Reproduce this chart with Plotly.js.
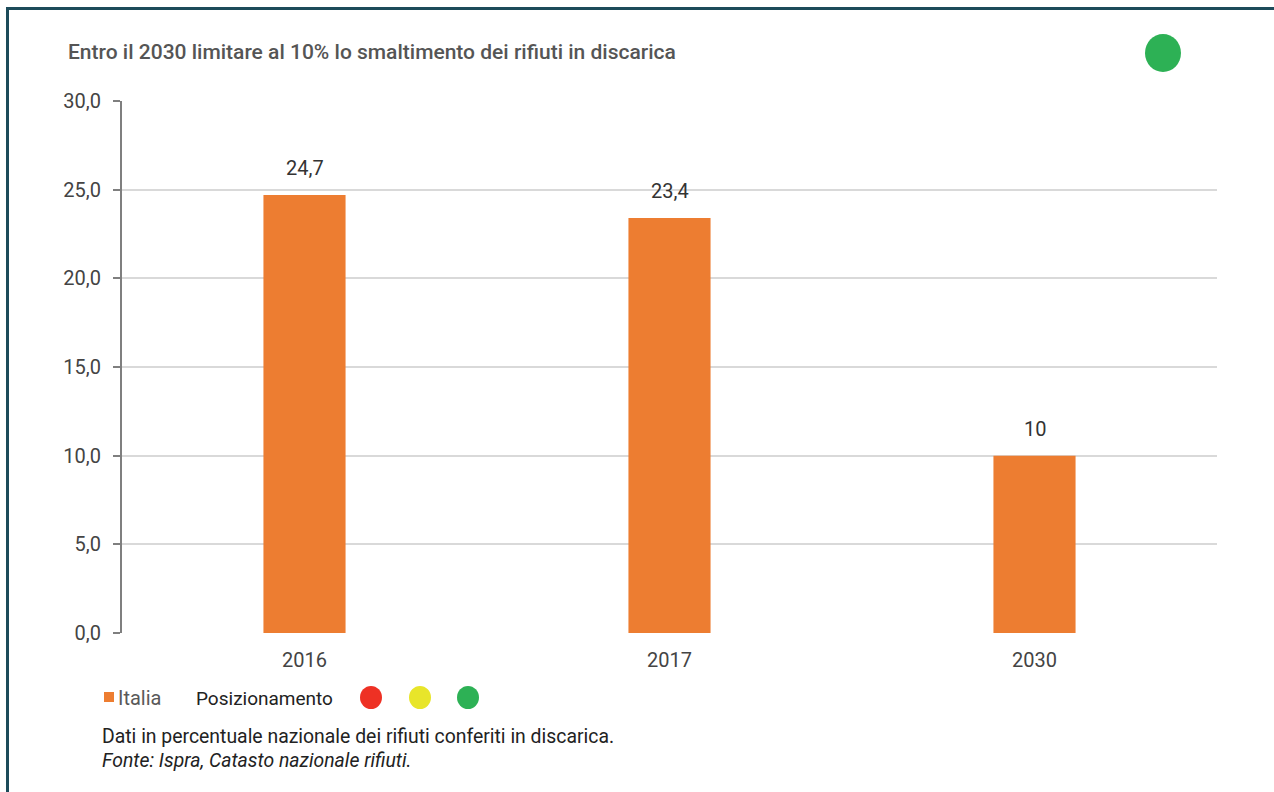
<!DOCTYPE html>
<html>
<head>
<meta charset="utf-8">
<script src="https://cdn.plot.ly/plotly-3.0.1.min.js"></script>
<style>
  html, body { margin: 0; padding: 0; background: #ffffff; }
  #wrap { position: relative; width: 1274px; height: 792px; overflow: hidden; }
  #chart { position: absolute; left: 0; top: 0; width: 1274px; height: 792px; }
  #frame { position: absolute; left: 6px; top: 7px; width: 1300px; height: 800px;
           border-left: 3px solid #1d4b5a; border-top: 3px solid #1d4b5a; pointer-events: none; }
</style>
</head>
<body>
<div id="wrap">
  <div id="chart"></div>
  <div id="frame"></div>
</div>
<script>
// ---- data ----
const categories = ["2016", "2017", "2030"];
const values = [24.7, 23.4, 10];
const valueLabels = ["24,7", "23,4", "10"];
const seriesName = "Italia";
const titleText = "Entro il 2030 limitare al 10% lo smaltimento dei rifiuti in discarica";
const legendExtraLabel = "Posizionamento";
const positionColors = ["#ee3124", "#e8e52a", "#2db155"];
const statusColor = "#2db155";
const noteLine1 = "Dati in percentuale nazionale dei rifiuti conferiti in discarica.";
const noteLine2 = "<i>Fonte: Ispra, Catasto nazionale rifiuti.</i>";
const yTicks = [0, 5, 10, 15, 20, 25, 30];

// ---- layout geometry ----
const W = 1274, H = 792;
const L = 122, R = 1217, T = 101, B = 633;
const px = x => (x - L) / (R - L);
const py = y => (B - y) / (B - T);

const barColor = "#ed7d31";
const FONT = "Roboto, 'Noto Sans', sans-serif";

const trace = {
  type: "bar",
  x: categories,
  y: values,
  name: seriesName,
  marker: { color: barColor },
  width: 0.225,
  hoverinfo: "x+y"
};

// value labels: placed at category index on the category axis
const annotations = categories.map((c, i) => ({
  x: i, y: values[i], xref: "x", yref: "y",
  text: valueLabels[i], showarrow: false,
  xanchor: "center", yanchor: "middle", yshift: 27,
  font: { family: FONT, size: 20, color: "#333333" }
}));

annotations.push(
  { xref: "paper", yref: "paper", x: px(66), y: py(52), xanchor: "left", yanchor: "middle",
    text: titleText, showarrow: false, font: { family: FONT, size: 21, color: "#555555", weight: 500 } },
  { xref: "paper", yref: "paper", x: px(116), y: py(698), xanchor: "left", yanchor: "middle",
    text: seriesName, showarrow: false, font: { family: FONT, size: 20, color: "#595959" } },
  { xref: "paper", yref: "paper", x: px(194), y: py(698), xanchor: "left", yanchor: "middle",
    text: legendExtraLabel, showarrow: false, font: { family: FONT, size: 19, color: "#222222" } },
  { xref: "paper", yref: "paper", x: px(100), y: py(736), xanchor: "left", yanchor: "middle",
    text: noteLine1, showarrow: false, font: { family: FONT, size: 19.4, color: "#222222" } },
  { xref: "paper", yref: "paper", x: px(100), y: py(760), xanchor: "left", yanchor: "middle",
    text: noteLine2, showarrow: false, font: { family: FONT, size: 19.4, color: "#222222" } }
);

const shapes = [
  { type: "rect", xref: "paper", yref: "paper",
    x0: px(104), x1: px(114), y0: py(702), y1: py(692),
    fillcolor: barColor, line: { width: 0 } },
  { type: "circle", xref: "paper", yref: "paper",
    x0: px(1145), x1: px(1181), y0: py(72), y1: py(34),
    fillcolor: statusColor, line: { width: 0 } }
];
const circleCenters = [371, 420, 468];
positionColors.forEach((col, i) => {
  const cx = circleCenters[i];
  shapes.push({ type: "circle", xref: "paper", yref: "paper",
    x0: px(cx - 11), x1: px(cx + 11), y0: py(709), y1: py(686),
    fillcolor: col, line: { width: 0 } });
});

const layout = {
  width: W, height: H,
  margin: { l: L, r: W - R, t: T, b: H - B, pad: 0 },
  paper_bgcolor: "#ffffff",
  plot_bgcolor: "#ffffff",
  separators: ",.",
  showlegend: false,
  font: { family: FONT, color: "#444444" },
  xaxis: {
    type: "category",
    categoryorder: "array",
    categoryarray: categories,
    range: [-0.5, categories.length - 0.5],
    showgrid: false, zeroline: false, showline: false,
    ticks: "",
    ticklabelstandoff: 13,
    tickfont: { family: FONT, size: 20, color: "#444444" }
  },
  yaxis: {
    range: [0, 30],
    tickvals: yTicks,
    tickformat: ".1f",
    showgrid: true, gridcolor: "#d9d9d9", gridwidth: 2,
    zeroline: false,
    showline: true, linecolor: "#7f7f7f", linewidth: 2,
    ticks: "outside", ticklen: 7, tickwidth: 2, tickcolor: "#7f7f7f",
    ticklabelstandoff: 8,
    tickfont: { family: FONT, size: 20, color: "#444444" }
  },
  annotations: annotations,
  shapes: shapes
};

Plotly.newPlot("chart", [trace], layout, { displayModeBar: false, staticPlot: true });
</script>
</body>
</html>
